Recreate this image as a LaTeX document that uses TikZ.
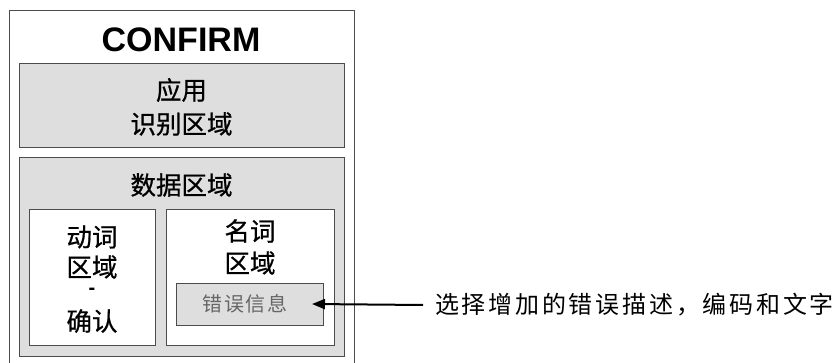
\documentclass[tikz,border=0pt]{standalone}
\usepackage{fontspec}
\setmainfont{Liberation Sans}
\newfontfamily\cjk[FakeBold=0.7]{Noto Sans CJK SC}
\newfontfamily\cjknote[LetterSpace=11.5]{Noto Sans CJK SC}
\newfontfamily\cjksmall[LetterSpace=8]{Noto Sans CJK SC}
\usetikzlibrary{arrows.meta}
\begin{document}
\begin{tikzpicture}[x=1pt,y=-1pt,
 box/.style={draw=black!70, line width=0.9pt, anchor=north west, inner sep=0pt, outer sep=0pt},
 graybox/.style={box, fill=black!13},
 whitebox/.style={box, fill=white},
 lbl/.style={font=\cjk\fontsize{25.5}{30}\selectfont, inner sep=0pt},
 hyph/.style={font=\bfseries\fontsize{20}{24}\selectfont, inner sep=0pt},
 notestyle/.style={font=\cjknote\fontsize{24}{28}\selectfont, inner sep=0pt, anchor=west},
 small/.style={font=\cjksmall\fontsize{20}{24}\selectfont, inner sep=0pt, text=black!60},
 title/.style={font=\bfseries\fontsize{34}{40}\selectfont, inner sep=0pt, anchor=base},
 pointer/.style={-{Triangle[length=13pt,width=10pt]}, line width=2pt, black},
]
\useasboundingbox (0,0) rectangle (840,363);
\node[whitebox, minimum width=345pt, minimum height=360pt] (outer) at (9,10) {};
\node[title] (confirm) at (181,52) {CONFIRM};
\node[graybox, minimum width=325pt, minimum height=84pt] (app) at (19,63) {};
\node[lbl] (app1) at (181.5,90) {应用};
\node[lbl] (app2) at (181.5,124) {识别区域};
\node[graybox, minimum width=325pt, minimum height=199pt] (data) at (19,157) {};
\node[lbl] (datat) at (181.5,185) {数据区域};
\node[whitebox, minimum width=126pt, minimum height=136pt] (verb) at (29,209) {};
\node[lbl] (verb1) at (92,237) {动词};
\node[lbl] (verb2) at (92,267) {区域};
\node[hyph] (verb3) at (92,291) {-};
\node[lbl] (verb4) at (92,321) {确认};
\node[whitebox, minimum width=168pt, minimum height=136pt] (noun) at (166,209) {};
\node[lbl] (noun1) at (250,231) {名词};
\node[lbl] (noun2) at (250,263) {区域};
\node[graybox, minimum width=147pt, minimum height=42pt] (err) at (176,283) {};
\node[small] (errt) at (245,304) {错误信息};
\node[notestyle] (notet) at (435,305) {选择增加的错误描述，编码和文字};
\draw[pointer] ([xshift=-12pt]notet.west) -- ([xshift=-11pt]err.east);
\end{tikzpicture}
\end{document}
